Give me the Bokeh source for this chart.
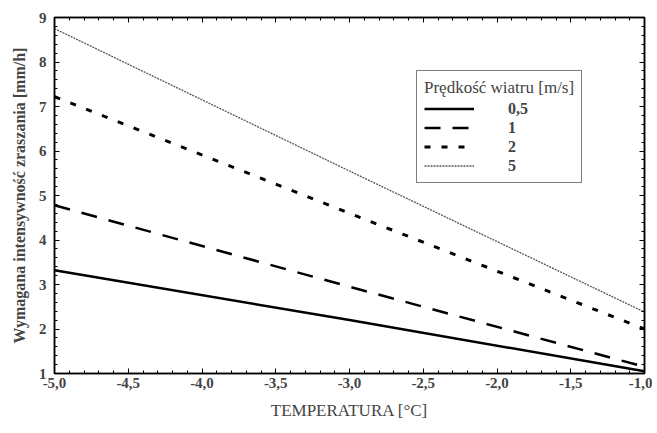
from bokeh.plotting import figure
from bokeh.models import Range1d, LinearAxis, Legend, LegendItem, FixedTicker
from bokeh.embed import file_html
from bokeh.resources import INLINE

# data
temperature = [-5.0, -3.0, -1.0]
v_05 = [3.32, 2.20, 1.05]
v_1 = [4.78, 2.95, 1.15]
v_2 = [7.22, 4.60, 2.00]
v_5 = [8.75, 5.55, 2.38]
series_labels = ["0,5", "1", "2", "5"]
x_ticks = [-5.0, -4.5, -4.0, -3.5, -3.0, -2.5, -2.0, -1.5, -1.0]
x_tick_labels = ["-5,0", "-4,5", "-4,0", "-3,5", "-3,0", "-2,5", "-2,0", "-1,5", "-1,0"]
y_ticks = [1, 2, 3, 4, 5, 6, 7, 8, 9]

FONT = "Liberation Serif"
x_minor = [round(-5 + 0.1 * i, 2) for i in range(41)]
y_minor = [round(1 + 0.2 * i, 2) for i in range(41)]

p = figure(width=652, height=428, output_backend="svg", toolbar_location=None,
           x_range=Range1d(-5.0, -1.0), y_range=Range1d(1, 9),
           min_border_left=54, min_border_right=8, min_border_top=17, min_border_bottom=10,
           frame_width=590, frame_height=356)
p.grid.visible = False
p.outline_line_color = "black"
p.outline_line_width = 1.5
p.background_fill_color = "white"
p.border_fill_color = "white"

def style_axis(ax):
    ax.axis_line_color = "black"
    ax.axis_line_width = 1.5
    ax.major_tick_in = 5
    ax.major_tick_out = 0
    ax.minor_tick_in = 3
    ax.minor_tick_out = 0
    ax.major_tick_line_color = "black"
    ax.minor_tick_line_color = "black"

xa = p.xaxis[0]
xa.ticker = FixedTicker(ticks=x_ticks, minor_ticks=x_minor)
xa.major_label_overrides = {t: l for t, l in zip(x_ticks, x_tick_labels)}
xa.major_label_text_font = FONT
xa.major_label_text_font_style = "bold"
xa.major_label_text_font_size = "15px"
xa.major_label_standoff = 4
xa.axis_label = "TEMPERATURA [°C]"
xa.axis_label_text_font = FONT
xa.axis_label_text_font_style = "normal"
xa.axis_label_text_font_size = "17px"
xa.axis_label_standoff = 10
style_axis(xa)

ya = p.yaxis[0]
ya.ticker = FixedTicker(ticks=y_ticks, minor_ticks=y_minor)
ya.major_label_text_font = FONT
ya.major_label_text_font_style = "bold"
ya.major_label_text_font_size = "15px"
ya.major_label_standoff = 8
ya.axis_label = "Wymagana intensywność zraszania [mm/h]"
ya.axis_label_text_font = FONT
ya.axis_label_text_font_style = "bold"
ya.axis_label_text_font_size = "16px"
ya.axis_label_standoff = 8
style_axis(ya)

top = LinearAxis(ticker=FixedTicker(ticks=x_ticks, minor_ticks=x_minor))
top.major_label_overrides = {t: "" for t in x_ticks}
style_axis(top)
p.add_layout(top, "above")
right = LinearAxis(ticker=FixedTicker(ticks=y_ticks, minor_ticks=y_minor))
right.major_label_overrides = {t: "" for t in y_ticks}
style_axis(right)
p.add_layout(right, "right")

r1 = p.line(temperature, v_05, line_color="black", line_width=2.5)
r2 = p.line(temperature, v_1, line_color="black", line_width=2.5, line_dash="16 12")
r3 = p.line(temperature, v_2, line_color="black", line_width=3, line_dash="6 11")
r4 = p.line(temperature, v_5, line_color="#555555", line_width=1.3, line_dash="2 1")

legend = Legend(items=[LegendItem(label=series_labels[0], renderers=[r1]),
                       LegendItem(label=series_labels[1], renderers=[r2]),
                       LegendItem(label=series_labels[2], renderers=[r3]),
                       LegendItem(label=series_labels[3], renderers=[r4])],
                location=(362, 190))
legend.title = "Prędkość wiatru [m/s]"
legend.title_text_font = FONT
legend.title_text_font_size = "17px"
legend.title_text_font_style = "normal"
legend.label_text_font = FONT
legend.label_text_font_size = "16px"
legend.label_text_font_style = "bold"
legend.border_line_color = "black"
legend.border_line_width = 1.2
legend.glyph_width = 50
legend.glyph_height = 19
legend.label_height = 19
legend.label_standoff = 34
legend.spacing = 0
legend.padding = 7
legend.margin = 0
legend.title_standoff = 1
p.add_layout(legend, "center")

open("out.html", "w").write(file_html(p, INLINE))
